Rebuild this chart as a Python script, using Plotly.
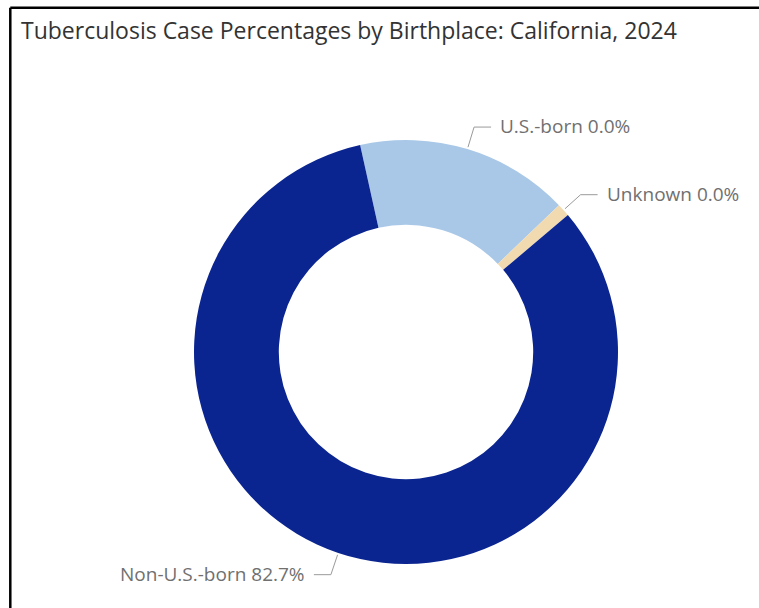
import math
import plotly.graph_objects as go

# ---- data ----
categories = ["U.S.-born", "Unknown", "Non-U.S.-born"]
values = [16.3, 1.0, 82.7]
label_pct = ["0.0%", "0.0%", "82.7%"]
colors = ["#A9C8E8", "#F1DAB0", "#0B2590"]
title_text = "Tuberculosis Case Percentages by Birthplace: California, 2024"

# ---- layout constants (pixels) ----
W, H = 759, 608
CX, CY, R = 406, 352, 212
HOLE = 0.60
ROTATION = -12.5  # degrees clockwise from 12 o'clock


def px(x):
    return x / W


def py(y):
    return 1 - y / H


fig = go.Figure()
fig.add_trace(go.Pie(
    labels=categories,
    values=values,
    hole=HOLE,
    sort=False,
    direction="clockwise",
    rotation=ROTATION,
    marker=dict(colors=colors, line=dict(width=0)),
    textinfo="none",
    hoverinfo="label+percent",
    showlegend=False,
    domain=dict(x=[px(CX - R), px(CX + R)], y=[py(CY + R), py(CY - R)]),
))

# leader lines and labels derived from slice angles
total = sum(values)
start = ROTATION
shapes = []
annotations = []
label_font = dict(family="Open Sans, Noto Sans, sans-serif", size=19, color="#707070")
for cat, v, pct in zip(categories, values, label_pct):
    span = v / total * 360
    mid = math.radians(start + span / 2)
    start += span
    sx, sy = math.sin(mid), -math.cos(mid)
    x0, y0 = CX + (R + 2) * sx, CY + (R + 2) * sy
    x1, y1 = CX + (R + 23) * sx, CY + (R + 23) * sy
    side = 1 if sx >= 0 else -1
    x2 = x1 + side * 17
    shapes.append(dict(
        type="path",
        xref="paper", yref="paper",
        path=f"M {px(x0)} {py(y0)} L {px(x1)} {py(y1)} L {px(x2)} {py(y1)}",
        line=dict(color="#9a9a9a", width=1),
    ))
    annotations.append(dict(
        x=px(x2 + side * 7), y=py(y1 - 1),
        xref="paper", yref="paper",
        text=f"{cat} {pct}",
        showarrow=False,
        xanchor="left" if side > 0 else "right",
        yanchor="middle",
        font=label_font,
    ))

# title
annotations.append(dict(
    x=px(19), y=py(30), xref="paper", yref="paper",
    text=title_text, showarrow=False, xanchor="left", yanchor="middle",
    font=dict(family="Open Sans, Noto Sans, sans-serif", size=23, color="#333333"),
))

# frame (top and left borders)
shapes.append(dict(type="line", xref="paper", yref="paper",
                   x0=px(10.3), y0=py(7.7), x1=1.0, y1=py(7.7),
                   line=dict(color="black", width=2.5)))
shapes.append(dict(type="line", xref="paper", yref="paper",
                   x0=px(10.3), y0=py(7.7), x1=px(10.3), y1=0.0,
                   line=dict(color="black", width=2.5)))

fig.update_layout(
    width=W, height=H,
    margin=dict(l=0, r=0, t=0, b=0),
    paper_bgcolor="white",
    plot_bgcolor="white",
    shapes=shapes,
    annotations=annotations,
)

fig.write_html("out.html")
